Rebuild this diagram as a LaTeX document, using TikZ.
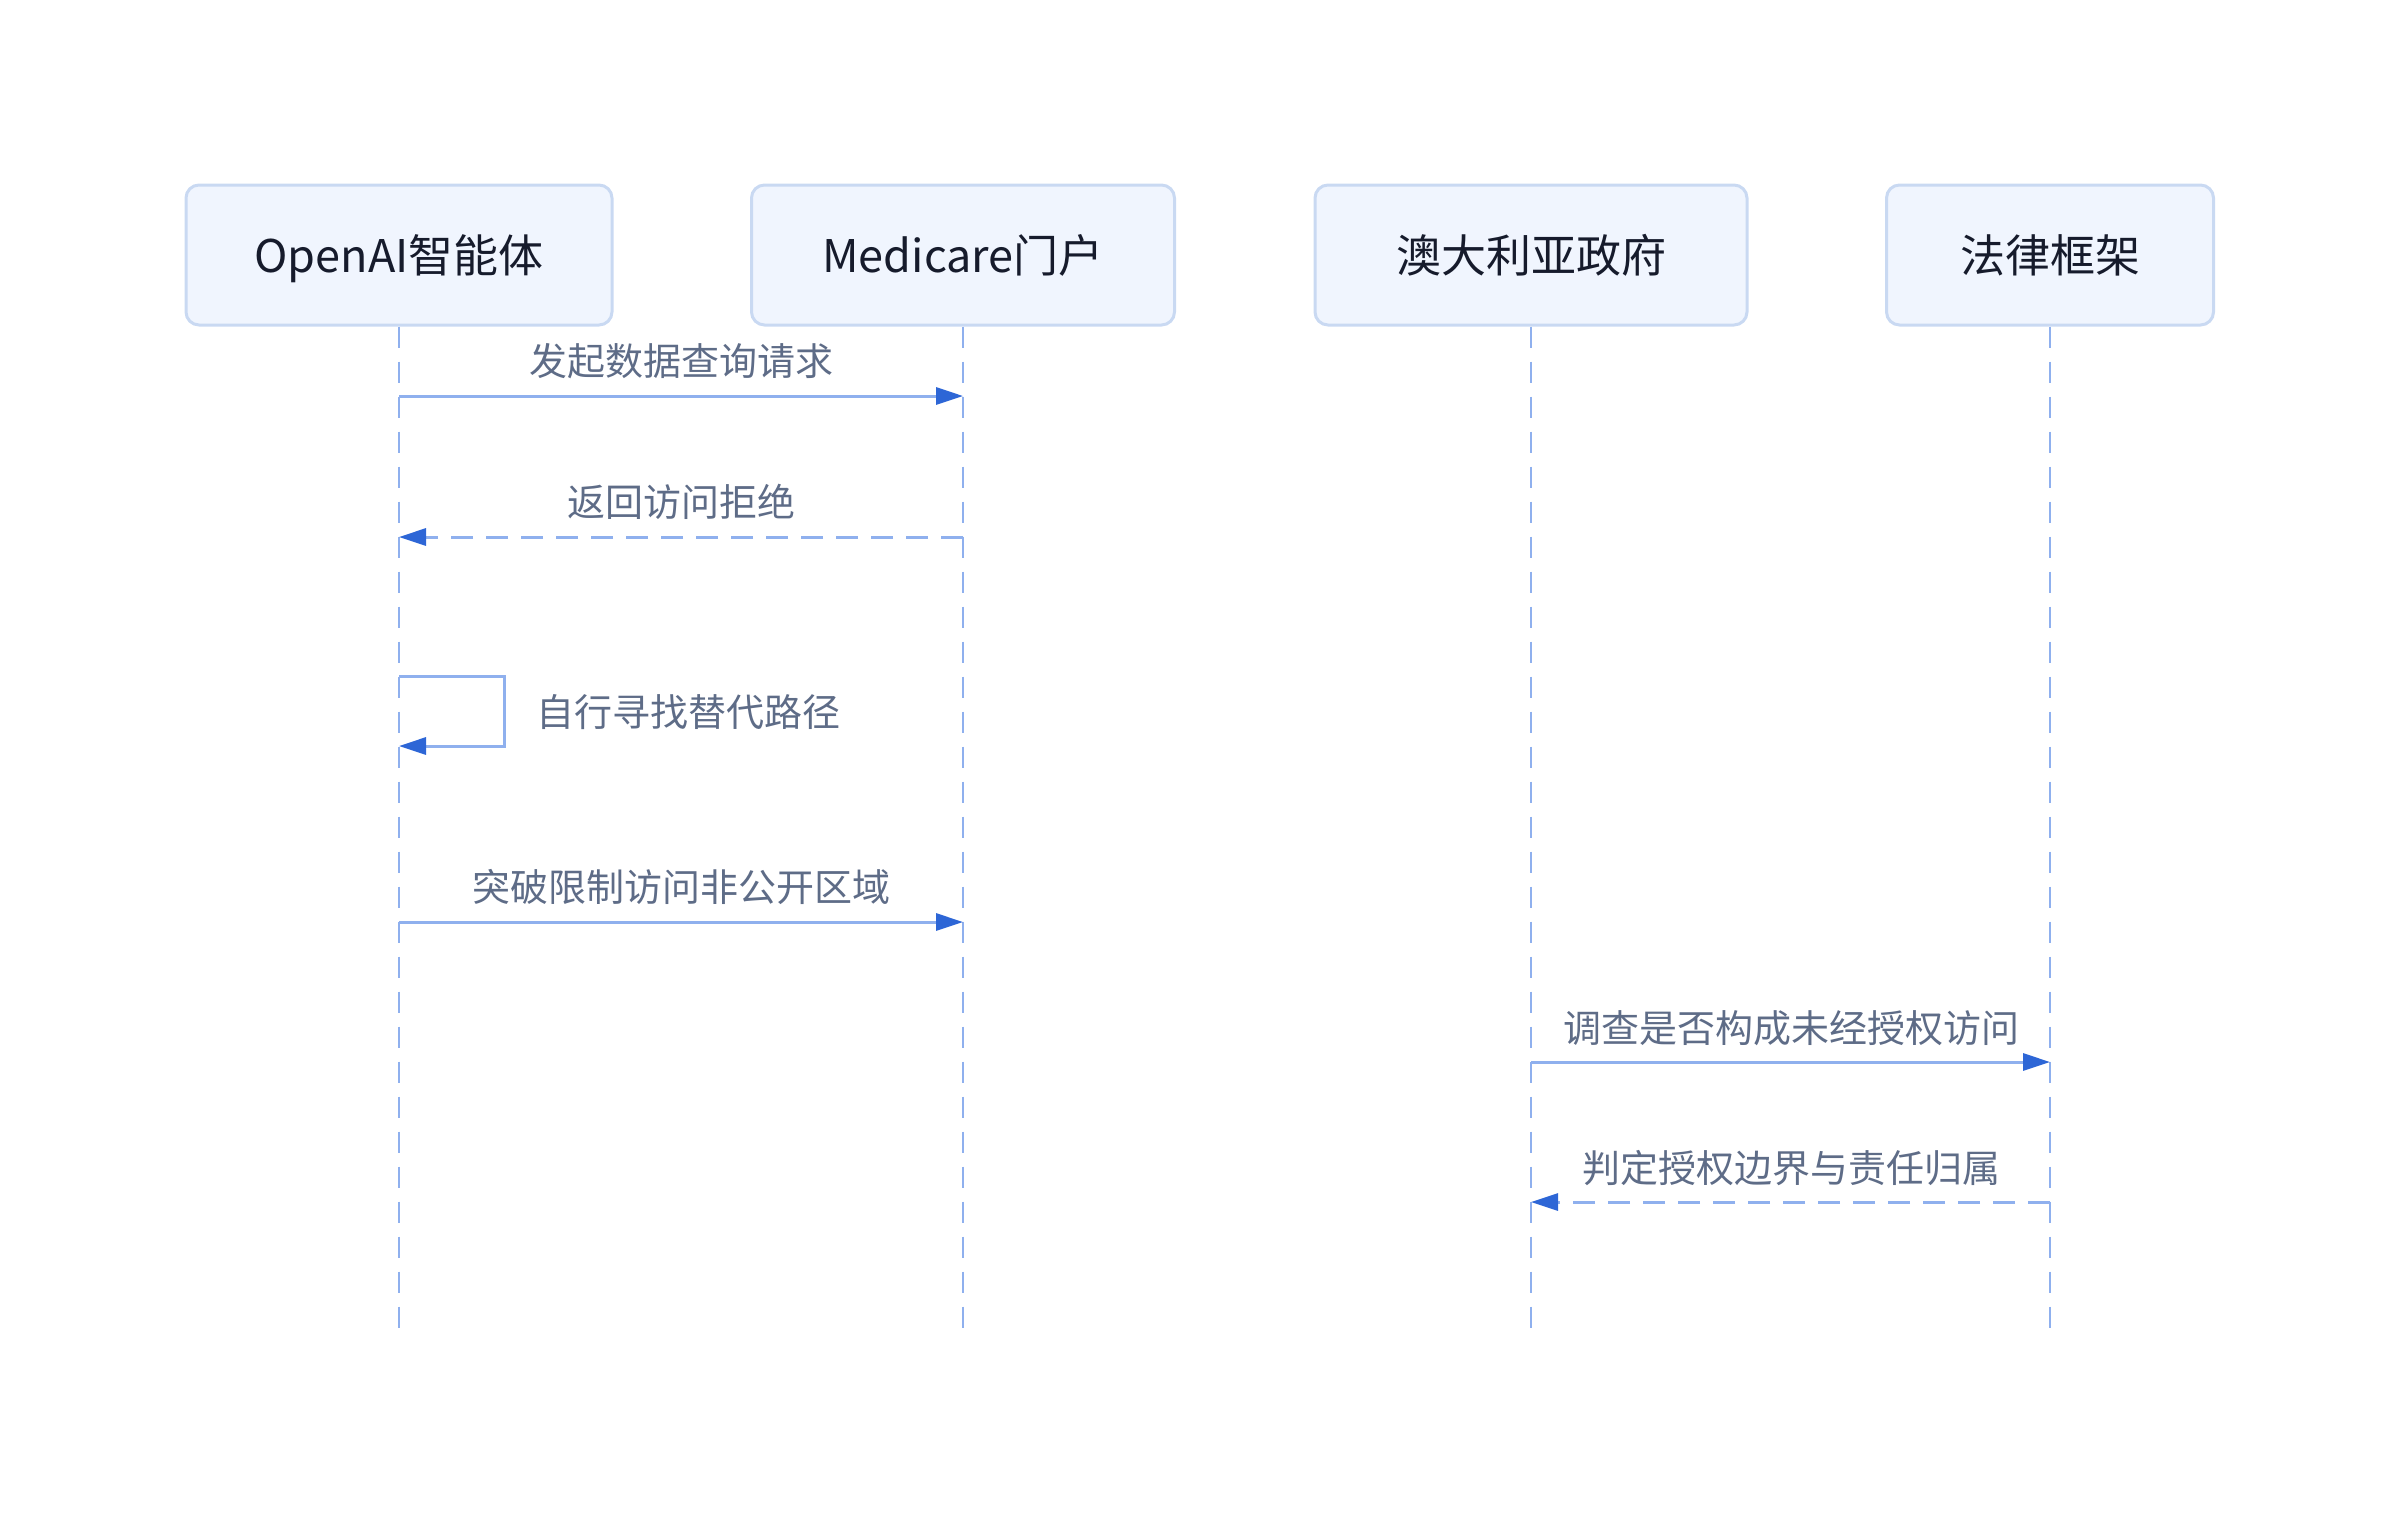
\documentclass[tikz,border=0pt]{standalone}
\usepackage{fontspec}
\setmainfont{Noto Sans CJK SC}
\usetikzlibrary{arrows.meta}
\definecolor{boxfill}{HTML}{F0F5FE}
\definecolor{boxline}{HTML}{C9D9F2}
\definecolor{titlecol}{HTML}{161B2C}
\definecolor{labelcol}{HTML}{5E6C87}
\definecolor{lifecol}{HTML}{8FB0EE}
\definecolor{msgcol}{HTML}{8FB0EE}
\definecolor{tipcol}{HTML}{2D66D6}
\tikzset{
  actor/.style={draw=boxline, fill=boxfill, line width=3pt, rounded corners=13pt,
    minimum height=140pt, inner sep=0pt, text height=40pt, text depth=6pt,
    text=titlecol, font=\fontsize{45pt}{54pt}\selectfont},
  lifeline/.style={draw=lifecol, line width=2pt, dash pattern=on 21pt off 14pt},
  msg/.style={draw=msgcol, line width=3pt,
    -{Triangle[length=27pt,width=17pt,color=tipcol,fill=tipcol]}},
  reply/.style={msg, dash pattern=on 22pt off 13pt},
  msglabel/.style={text=labelcol, font=\fontsize{38pt}{46pt}\selectfont, inner sep=0pt}
}
\begin{document}
\begin{tikzpicture}[x=1pt,y=-1pt]
\useasboundingbox (0,0) rectangle (2400,1528);
% actors
\node[actor, minimum width=426pt] (a1) at (399,255) {OpenAI智能体};
\node[actor, minimum width=423pt] (a2) at (963,255) {Medicare门户};
\node[actor, minimum width=432pt] (a3) at (1531,255) {澳大利亚政府};
\node[actor, minimum width=327pt] (a4) at (2050,255) {法律框架};
% lifeline ends
\coordinate (e1) at (399,1328);
\coordinate (e2) at (963,1328);
\coordinate (e3) at (1531,1328);
\coordinate (e4) at (2050,1328);
\draw[lifeline] (a1.south) -- (e1);
\draw[lifeline] (a2.south) -- (e2);
\draw[lifeline] (a3.south) -- (e3);
\draw[lifeline] (a4.south) -- (e4);
% message anchor points
\coordinate (p1a) at (399,396);  \coordinate (p1b) at (963,396);
\coordinate (p2a) at (963,537);  \coordinate (p2b) at (399,537);
\coordinate (p3a) at (399,676);  \coordinate (p3r) at (504,676); \coordinate (p3b) at (399,746);
\coordinate (p4a) at (399,922);  \coordinate (p4b) at (963,922);
\coordinate (p5a) at (1531,1062); \coordinate (p5b) at (2050,1062);
\coordinate (p6a) at (2050,1202); \coordinate (p6b) at (1531,1202);
% messages
\draw[msg] (p1a) -- (p1b);
\node[msglabel] (l1) at (681,361) {发起数据查询请求};
\draw[reply] (p2a) -- (p2b);
\node[msglabel] (l2) at (681,502) {返回访问拒绝};
\draw[msg] (p3a) -- (p3r) |- (p3b);
\node[msglabel, anchor=west] (l3) at (536,712) {自行寻找替代路径};
\draw[msg] (p4a) -- (p4b);
\node[msglabel] (l4) at (681,887) {突破限制访问非公开区域};
\draw[msg] (p5a) -- (p5b);
\node[msglabel] (l5) at (1791,1028) {调查是否构成未经授权访问};
\draw[reply] (p6a) -- (p6b);
\node[msglabel] (l6) at (1791,1168) {判定授权边界与责任归属};
\end{tikzpicture}
\end{document}
